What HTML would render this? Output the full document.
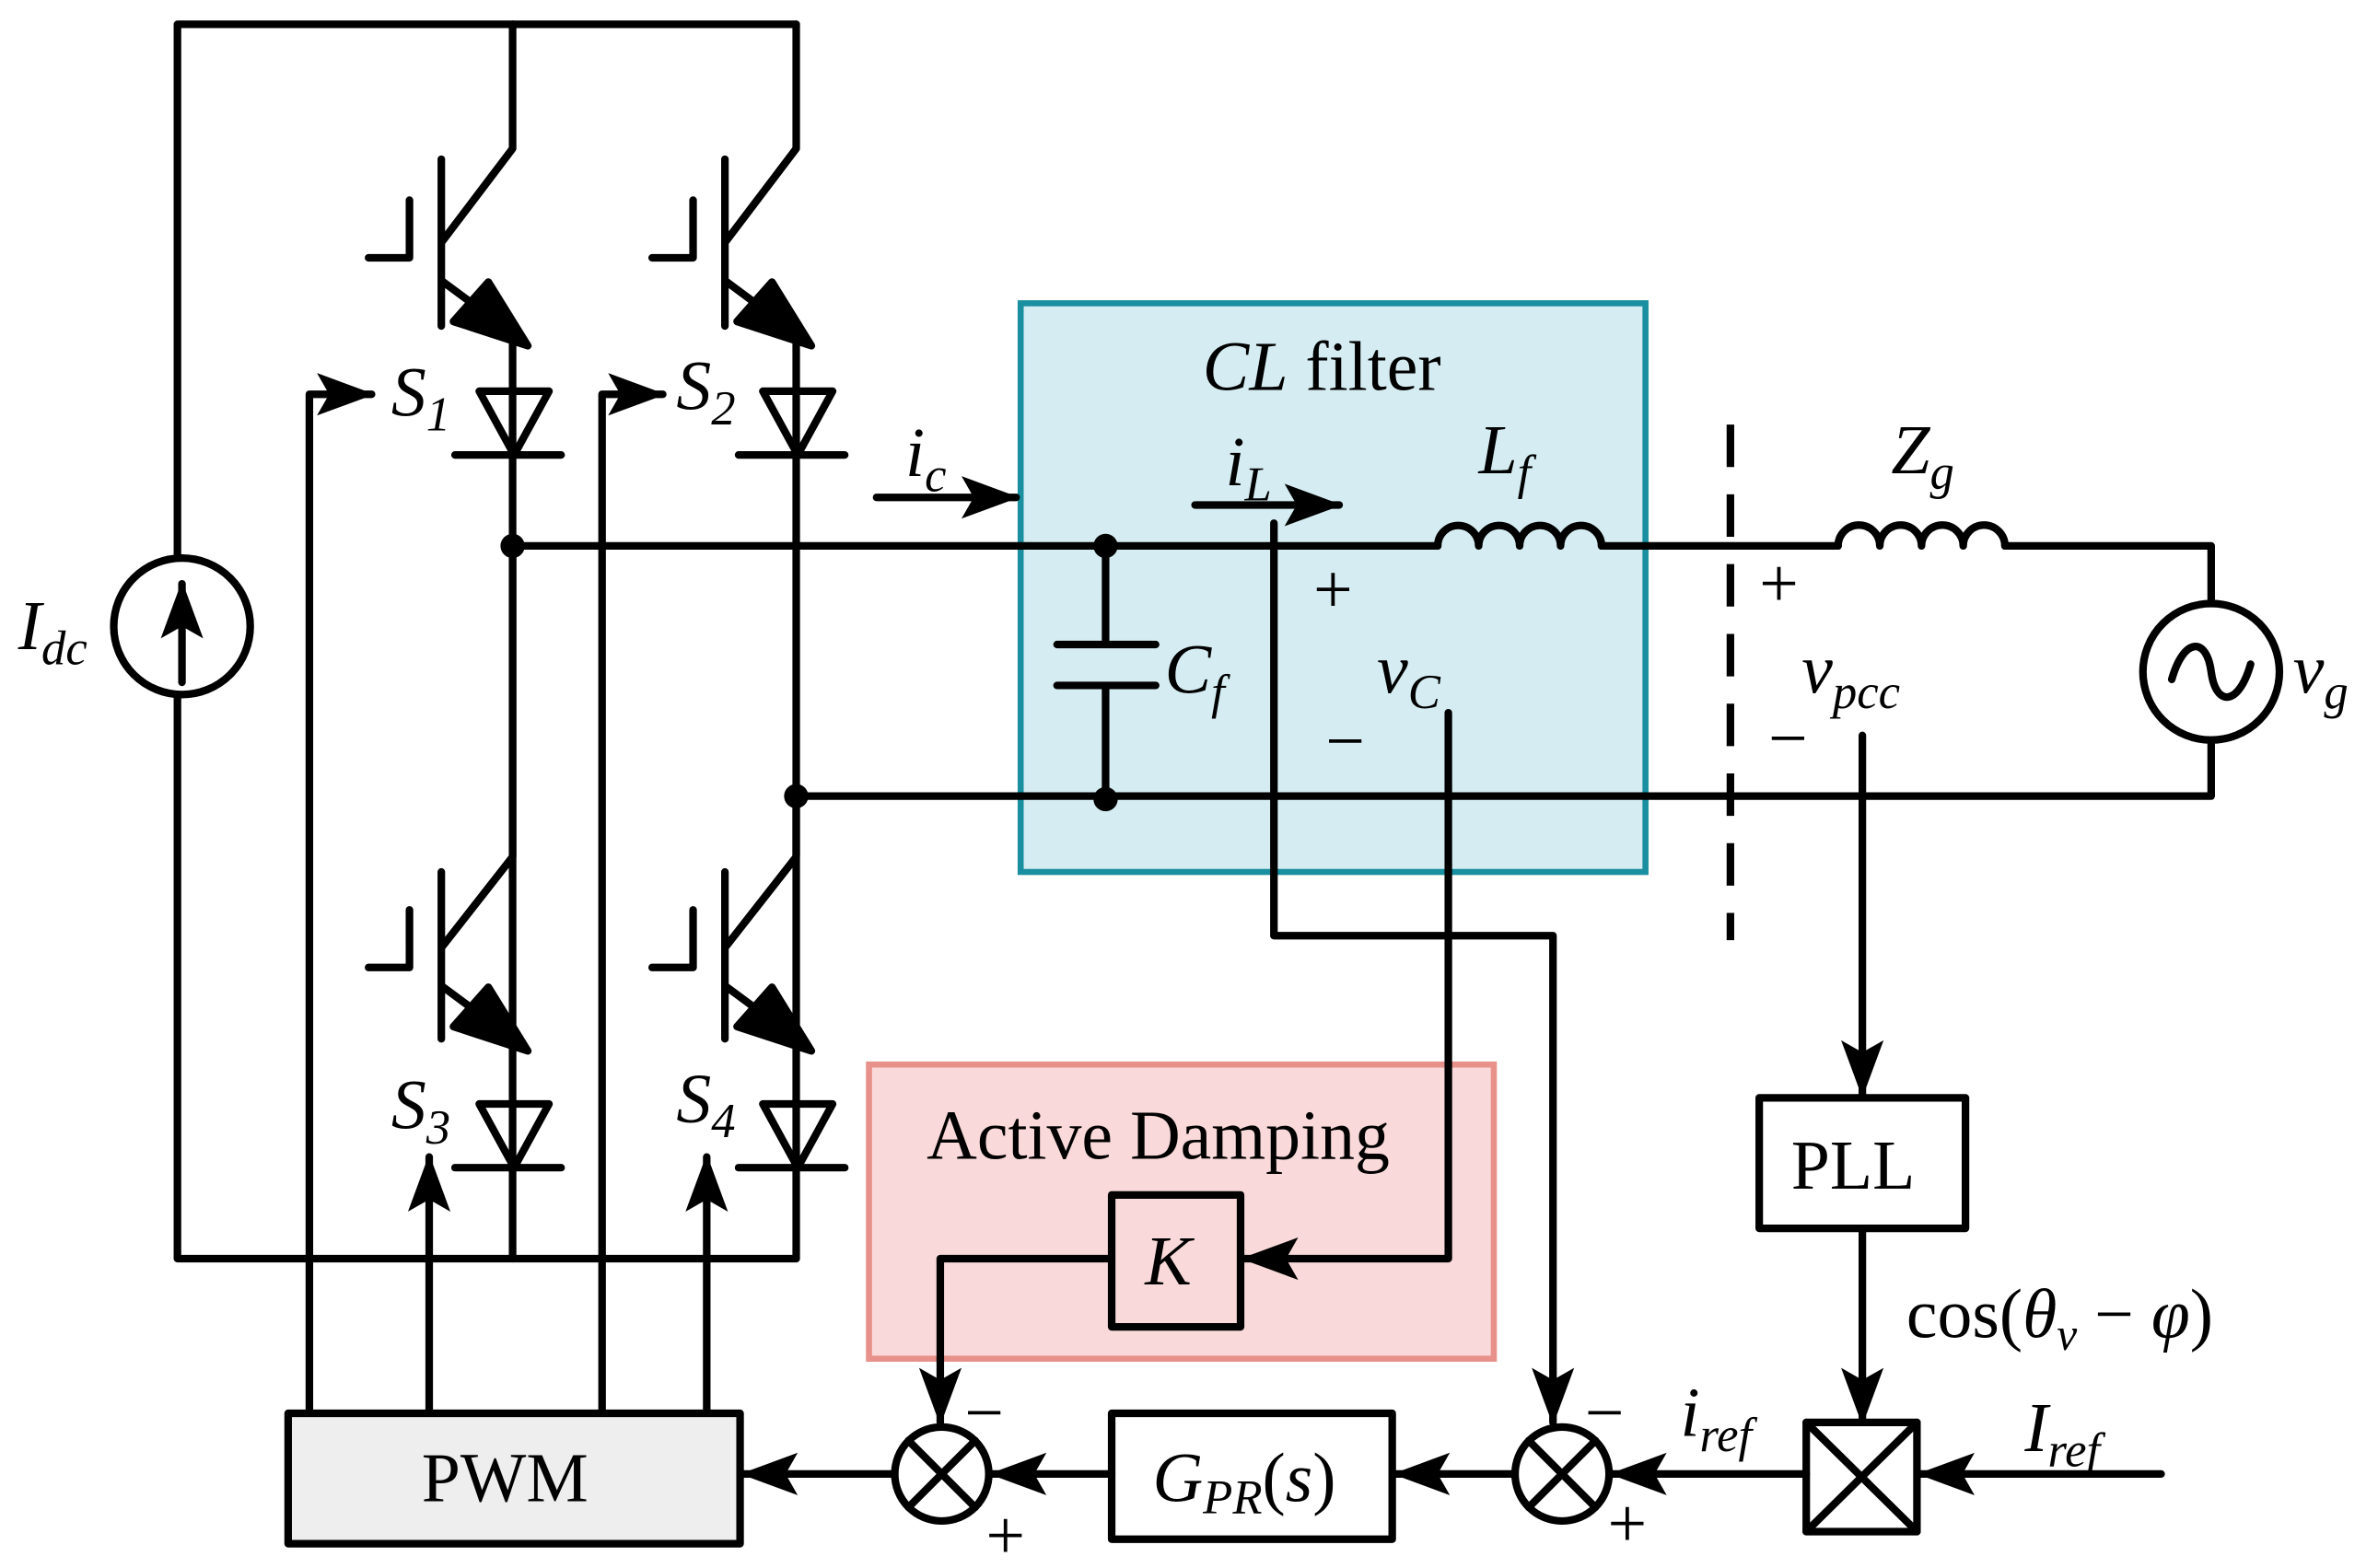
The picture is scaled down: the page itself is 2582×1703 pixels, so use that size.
<!DOCTYPE html>
<html><head><meta charset="utf-8"><style>html,body{margin:0;padding:0;background:#fff}svg{display:block}
text{font-family:"Liberation Serif",serif;fill:#000}</style></head><body>
<svg width="2582" height="1703" viewBox="0 0 1568 1034" preserveAspectRatio="none" xmlns="http://www.w3.org/2000/svg">
<defs>
<marker id="a" markerUnits="userSpaceOnUse" markerWidth="44" markerHeight="32" refX="36" refY="14" orient="auto"><path d="M0,0 L38,14 L0,28 L8,14 Z" fill="#000"/></marker>
</defs>
<rect x="673" y="200" width="412" height="375" fill="#d5edf2" stroke="#1a8fa0" stroke-width="4"/>
<rect x="573" y="702" width="412" height="194" fill="#f9d9d9" stroke="#e8908a" stroke-width="4"/>
<g stroke="#000" stroke-width="5" fill="none" stroke-linecap="round" stroke-linejoin="round">
<path d="M117,368 V16 H525 M117,458 V830 H525"/>
<circle cx="120" cy="413" r="45" fill="#fff"/>
<path d="M120,450 V385" marker-end="url(#a)"/>
<path d="M338,16 V98 L291,160 M291,105 V215 M243,170 H270 V132 M291,185 L318,205 M338,225 V830"/>
<polygon points="348,228 299,212 322,186" fill="#000"/>
<path d="M316,258 H362 L339,300 Z M300,300 H370"/>
<path d="M338,360 V565 L291,625 M291,575 V685 M243,638 H270 V600 M291,650 L318,670"/>
<polygon points="348,693 299,677 322,651" fill="#000"/>
<path d="M316,728 H362 L339,770 Z M300,770 H370"/>
<path d="M525,16 V98 L478,160 M478,105 V215 M430,170 H457 V132 M478,185 L505,205 M525,225 V830"/>
<polygon points="535,228 486,212 509,186" fill="#000"/>
<path d="M503,258 H549 L526,300 Z M487,300 H557"/>
<path d="M525,525 V565 L478,625 M478,575 V685 M430,638 H457 V600 M478,650 L505,670"/>
<polygon points="535,693 486,677 509,651" fill="#000"/>
<path d="M503,728 H549 L526,770 Z M487,770 H557"/>
<path d="M338,360 H948 M1056,360 H1212 M1322,360 H1458 V398 M1458,488 V525 H525"/>
<path d="M948,360 a13.5,13.5 0 0 1 27,0 a13.5,13.5 0 0 1 27,0 a13.5,13.5 0 0 1 27,0 a13.5,13.5 0 0 1 27,0"/>
<path d="M1212,360 a13.75,13.75 0 0 1 27.5,0 a13.75,13.75 0 0 1 27.5,0 a13.75,13.75 0 0 1 27.5,0 a13.75,13.75 0 0 1 27.5,0"/>
<circle cx="1458" cy="443" r="45"/>
<path d="M1432,448 C1440,420 1455,420 1458,443 C1461,466 1476,466 1484,438"/>
<path d="M729,360 V425 M697,425 H762 M697,452 H762 M729,452 V527"/>
<path d="M1141,280 V620" stroke-dasharray="28,18" stroke-linecap="butt"/>
<path d="M578,328 H670" marker-end="url(#a)"/>
<path d="M788,333 H883" marker-end="url(#a)"/>
<path d="M840,345 V617 H1024 V938" marker-end="url(#a)"/>
<path d="M955,470 V830 H820" marker-end="url(#a)"/>
<rect x="733" y="788" width="85" height="87"/>
<path d="M733,830 H620 V938" marker-end="url(#a)"/>
<circle cx="621" cy="972" r="31"/><path d="M599,950 L643,994 M643,950 L599,994"/>
<circle cx="1030" cy="972" r="31"/><path d="M1008,950 L1052,994 M1052,950 L1008,994"/>
<rect x="1160" y="724" width="136" height="86"/>
<path d="M1228,485 V722" marker-end="url(#a)"/>
<path d="M1228,810 V938" marker-end="url(#a)"/>
<rect x="1191" y="938" width="73" height="72"/><path d="M1191,938 L1264,1010 M1264,938 L1191,1010"/>
<path d="M1425,972 H1266" marker-end="url(#a)"/>
<path d="M1191,972 H1063" marker-end="url(#a)"/>
<rect x="733" y="932" width="185" height="83"/>
<path d="M999,972 H920" marker-end="url(#a)"/>
<path d="M733,972 H654" marker-end="url(#a)"/>
<path d="M590,972 H490" marker-end="url(#a)"/>
<rect x="190" y="932" width="298" height="86" fill="#eee"/>
<path d="M204,932 V260 H245" marker-end="url(#a)"/>
<path d="M397,932 V260 H437" marker-end="url(#a)"/>
<path d="M283,932 V763" marker-end="url(#a)"/>
<path d="M466,932 V763" marker-end="url(#a)"/>
</g>
<g fill="#000">
<circle cx="338" cy="360" r="8"/><circle cx="525" cy="525" r="8"/>
<circle cx="729" cy="360" r="8"/><circle cx="729" cy="527" r="8"/>
</g>
<g font-size="46">
<text x="12" y="428" font-style="italic">I<tspan font-size="32" dy="10">dc</tspan></text>
<text x="258" y="274" font-style="italic">S<tspan font-size="32" dy="10">1</tspan></text>
<text x="446" y="270" font-style="italic">S<tspan font-size="32" dy="10">2</tspan></text>
<text x="258" y="744" font-style="italic">S<tspan font-size="32" dy="10">3</tspan></text>
<text x="446" y="740" font-style="italic">S<tspan font-size="32" dy="10">4</tspan></text>
<text x="793" y="257"><tspan font-style="italic">CL</tspan> filter</text>
<text x="597" y="314" font-style="italic">i<tspan font-size="32" dy="10">c</tspan></text>
<text x="808" y="320" font-style="italic">i<tspan font-size="32" dy="10">L</tspan></text>
<text x="975" y="312" font-style="italic">L<tspan font-size="32" dy="10">f</tspan></text>
<text x="1247" y="312" font-style="italic">Z<tspan font-size="32" dy="10">g</tspan></text>
<text x="768" y="457" font-style="italic">C<tspan font-size="32" dy="10">f</tspan></text>
<text x="908" y="457" font-style="italic">v<tspan font-size="32" dy="10">C</tspan></text>
<text x="1188" y="457" font-style="italic">v<tspan font-size="32" dy="10">pcc</tspan></text>
<text x="1512" y="457" font-style="italic">v<tspan font-size="32" dy="10">g</tspan></text>
<text x="866" y="404">+</text><text x="874" y="504">−</text>
<text x="1160" y="400">+</text><text x="1166" y="502">−</text>
<text x="611" y="764">Active Damping</text>
<text x="755" y="847" font-style="italic">K</text>
<text x="1181" y="784">PLL</text>
<text x="1257" y="882">cos(<tspan font-style="italic">θ</tspan><tspan font-size="30" dy="8" font-style="italic">v</tspan><tspan dy="-8"> − </tspan><tspan font-style="italic">φ</tspan>)</text>
<text x="1335" y="957" font-style="italic">I<tspan font-size="32" dy="10">ref</tspan></text>
<text x="1108" y="947" font-style="italic">i<tspan font-size="32" dy="10">ref</tspan></text>
<text x="760" y="990" font-style="italic">G<tspan font-size="32" dy="8">PR</tspan><tspan dy="-8" font-style="normal">(</tspan>s<tspan font-style="normal">)</tspan></text>
<text x="278" y="990">PWM</text>
<text x="636" y="947">−</text><text x="650" y="1028">+</text>
<text x="1045" y="947">−</text><text x="1060" y="1020">+</text>
</g>
</svg>
</body></html>
